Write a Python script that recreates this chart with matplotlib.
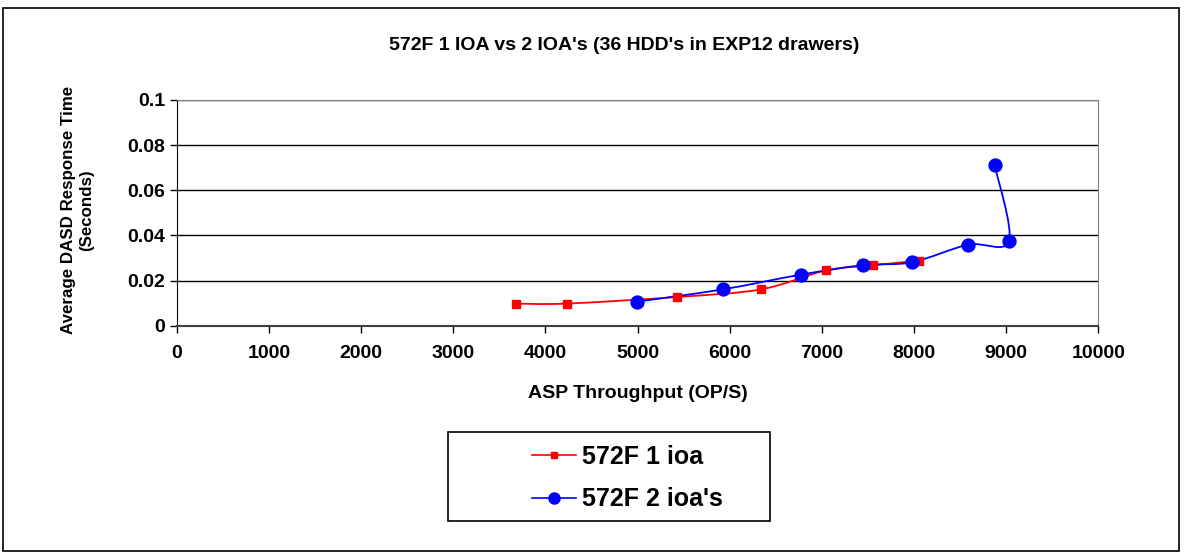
import numpy as np
import matplotlib.pyplot as plt
from matplotlib.path import Path
from matplotlib.patches import PathPatch, Rectangle
from matplotlib.lines import Line2D

plt.rcParams['font.family'] = ['Liberation Sans', 'DejaVu Sans']
plt.rcParams['font.weight'] = 'bold'

# 572F 1 ioa
x1 = [3680, 4230, 5425, 6340, 7045, 7560, 8050]
y1 = [0.0098, 0.0098, 0.0127, 0.0161, 0.0245, 0.0268, 0.0288]
# 572F 2 ioa's
x2 = [4990, 5925, 6770, 7445, 7975, 8585, 9030, 8875]
y2 = [0.0106, 0.0161, 0.0226, 0.0268, 0.0281, 0.0359, 0.0375, 0.0712]

xticks = [0, 1000, 2000, 3000, 4000, 5000, 6000, 7000, 8000, 9000, 10000]
yticks = [0, 0.02, 0.04, 0.06, 0.08, 0.1]
ytick_labels = ['0', '0.02', '0.04', '0.06', '0.08', '0.1']


def smooth_path(xs, ys):
    # Bezier segments like Excel "smoothed line"
    p = np.column_stack([xs, ys]).astype(float)
    n = len(p)
    verts = [p[0]]
    codes = [Path.MOVETO]
    for i in range(n - 1):
        prev = p[i - 1] if i > 0 else p[i]
        nxt = p[i + 2] if i + 2 < n else p[i + 1]
        c1 = p[i] + (p[i + 1] - prev) / 6.0
        c2 = p[i + 1] - (nxt - p[i]) / 6.0
        verts += [c1, c2, p[i + 1]]
        codes += [Path.CURVE4] * 3
    return Path(verts, codes)


W, H = 1186, 557
fig = plt.figure(figsize=(W / 100, H / 100), dpi=100)
ax = fig.add_axes([176.7 / W, 1 - 325.7 / H, (1098.3 - 176.7) / W, (325.7 - 100) / H])

ax.add_patch(PathPatch(smooth_path(x1, y1), fill=False, edgecolor='#ff0000', lw=1.3, zorder=3))
ax.plot(x1, y1, ls='none', marker='s', ms=5.5, color='#ff0000', zorder=4)
ax.add_patch(PathPatch(smooth_path(x2, y2), fill=False, edgecolor='#0000ff', lw=1.3, zorder=3))
ax.plot(x2, y2, ls='none', marker='o', ms=9.3, color='#0000ff', zorder=4)

ax.set_xlim(0, 10000)
ax.set_ylim(0, 0.1)
ax.set_xticks(xticks)
ax.set_yticks(yticks)
ax.set_yticklabels(ytick_labels)
ax.tick_params(labelsize=14, length=5, width=1, direction='out', pad=3.5)
ax.tick_params(axis='x', pad=9)
for lab in ax.get_xticklabels() + ax.get_yticklabels():
    lab.set_fontweight('bold')

ax.yaxis.grid(True, color='black', lw=1)
ax.set_axisbelow(True)
for s in ['top', 'right']:
    ax.spines[s].set_color('#808080')
ax.spines['left'].set_color('black')
ax.spines['bottom'].set_color('#404040')
ax.spines['bottom'].set_linewidth(1.5)

ax.set_xlabel('ASP Throughput (OP/S)', fontsize=14, fontweight='bold')
ax.set_ylabel('Average DASD Response Time\n(Seconds)', fontsize=12.2, fontweight='bold',
              linespacing=1.25)
ax.xaxis.set_label_coords(0.5, (325.7 - 385) / 225.7)
ax.yaxis.set_label_coords((94 - 176.7) / 921.6, (325.7 - 210) / 225.7)

fig.text(624 / W, 1 - 45 / H, "572F 1 IOA vs 2 IOA's (36 HDD's in EXP12 drawers)",
         ha='center', va='center', fontsize=14, fontweight='bold')

# outer chart border
fig.patches.append(Rectangle((3 / W, 1 - 551 / H), 1176 / W, 543 / H, transform=fig.transFigure,
                             fill=False, edgecolor='black', lw=1.2))
# legend box
fig.patches.append(Rectangle((448 / W, 1 - 521 / H), (770 - 448) / W, (521 - 432) / H,
                             transform=fig.transFigure, fill=False, edgecolor='black', lw=1.2))

handles = [Line2D([], [], color='#ff0000', marker='s', ms=5, lw=1.2),
           Line2D([], [], color='#0000ff', marker='o', ms=8, lw=1.2)]
fig.legend(handles, ['572F 1 ioa', "572F 2 ioa's"], loc='center left',
           bbox_to_anchor=(519 / W, 1 - 478 / H), frameon=False, borderpad=0,
           prop={'size': 18, 'weight': 'bold'}, handlelength=1.76, labelspacing=0.75,
           handletextpad=0.25)

fig.savefig('out.png', dpi=100)
